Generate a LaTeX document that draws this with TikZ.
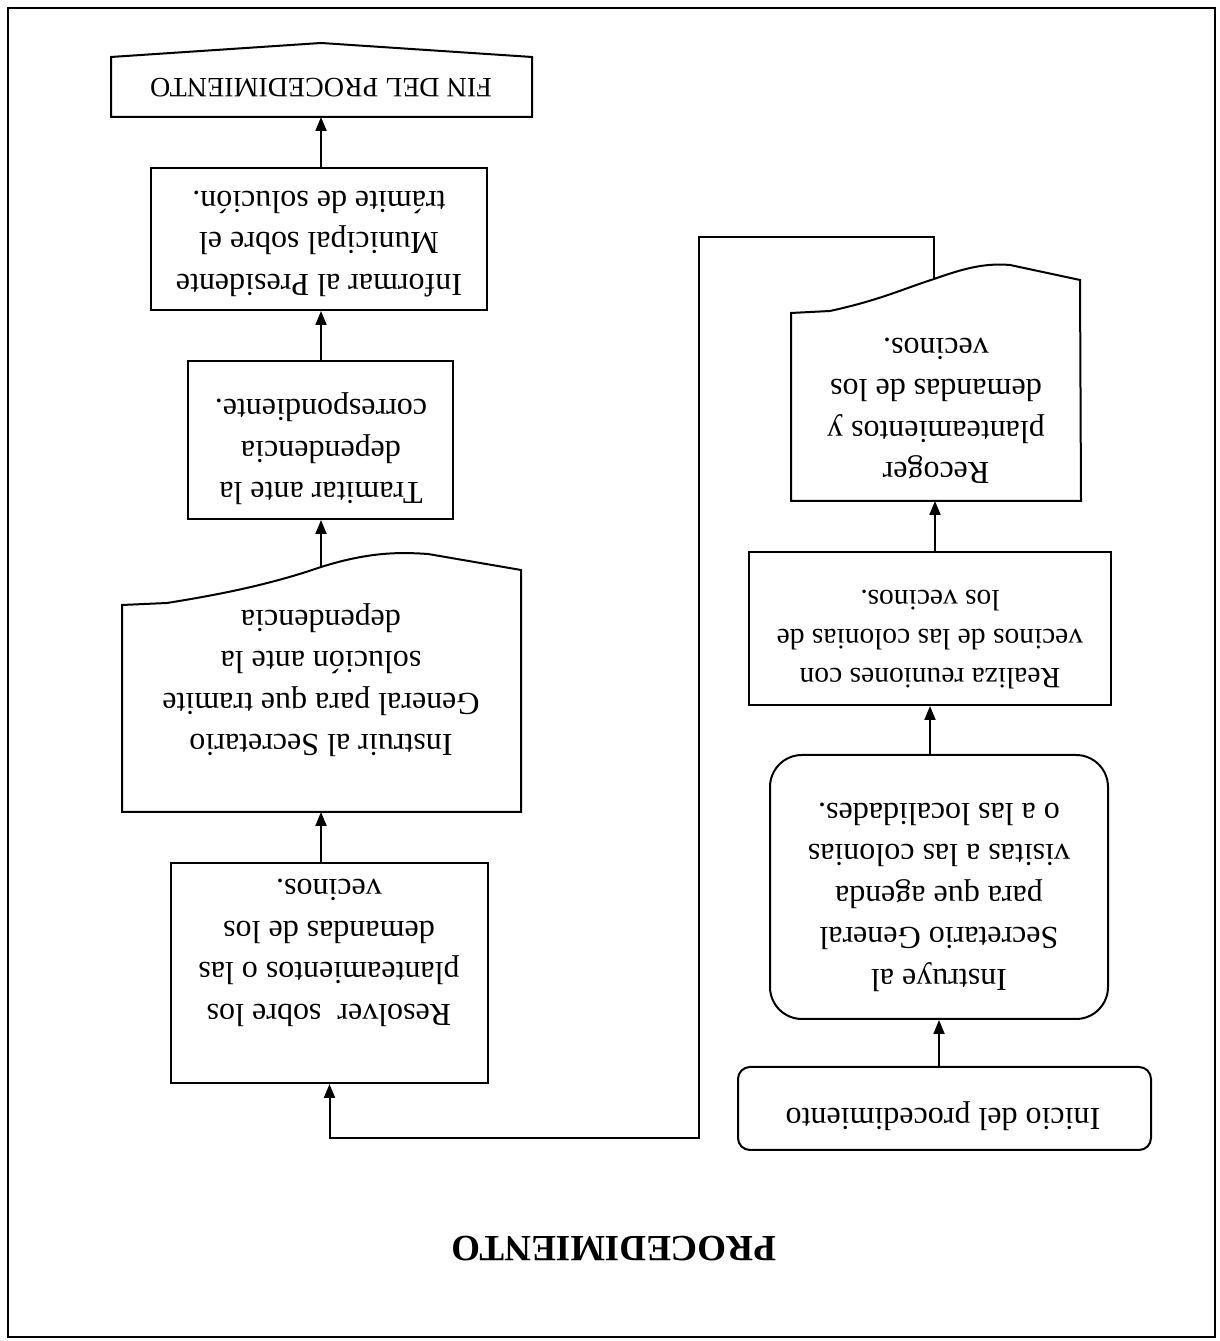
\documentclass[tikz,border=0pt]{standalone}
\usepackage{fontspec}
\setmainfont{Liberation Serif}
\usetikzlibrary{arrows.meta,calc}
\begin{document}
\begin{tikzpicture}[x=1pt,y=1pt,
  line width=2pt,
  box/.style={draw, rectangle, inner sep=0pt},
  txt/.style={align=center, font=\fontsize{32}{41.5}\selectfont, inner sep=0pt},
  arr/.style={-{Triangle[length=14pt,width=11pt]}},
]
\useasboundingbox (0,0) rectangle (1219,1341);
\fill[white] (0,0) rectangle (1219,1341);
\begin{scope}[rotate around={180:(609.5,670.5)}, transform shape]
% frame
\draw[line width=2.2pt] (4,8) rectangle (1211,1337);
% title
\node[font=\fontsize{37}{40}\selectfont\bfseries, inner sep=0pt] (title) at (605,1249) {PROCEDIMIENTO};
% left column (upright)
\node[box, minimum width=413pt, minimum height=83pt, rounded corners=12pt] (inicio) at (274.5,1108.5) {};
\node[txt] (inicioT) at (276,1116) {Inicio del procedimiento};
\node[box, minimum width=338pt, minimum height=264pt, rounded corners=32pt] (instruye) at (280,887) {};
\node[txt] (instruyeT) at (280,897) {Instruye al\\Secretario General\\para que agenda\\visitas a las colonias\\o a las localidades.};
\node[box, minimum width=362pt, minimum height=153pt] (realiza) at (289,628.5) {};
\node[txt, font=\fontsize{29.5}{39}\selectfont] (realizaT) at (289,640) {Realiza reuniones con\\vecinos de las colonias de\\los vecinos.};
% Recoger document
\draw (138,501) -- (428,501) -- (428,313) -- (389,311)
  .. controls (339,300) and (319,290) .. (285,279)
  .. controls (254,268) and (234,263) .. (209,265) -- (139,280) -- cycle;
\coordinate (recTop) at (284,501);
\coordinate (recW) at (285,279);
\node[txt] (recogerT) at (283,411) {Recoger\\planteamientos y\\demandas de los\\vecinos.};
% right column (upright)
\node[box, minimum width=317pt, minimum height=220pt] (resolver) at (889.5,973) {};
\node[txt] (resolverT) at (890,953) {Resolver\ \ sobre los\\planteamientos o las\\demandas de los\\vecinos.};
% Instruir document
\draw (698,812) -- (1097,812) -- (1097,605) -- (1052,603)
  .. controls (1002,595) and (950,585) .. (898,567)
  .. controls (850,552) and (820,552) .. (791,554) -- (698,570) -- cycle;
\coordinate (insTop) at (898,812);
\coordinate (insW) at (898,567);
\node[txt] (instruirT) at (898,680) {Instruir al Secretario\\General para que tramite\\solución ante la\\dependencia};
\node[box, minimum width=265pt, minimum height=158pt] (tramitar) at (898.5,440) {};
\node[txt] (tramitarT) at (898,449) {Tramitar ante la\\dependencia\\correspondiente.};
\node[box, minimum width=336pt, minimum height=142pt] (informar) at (900,239) {};
\node[txt] (informarT) at (900,244) {Informar al Presidente\\Municipal sobre el\\trámite de solución.};
% FIN off-page connector
\draw (687,117) -- (1108,117) -- (1108,57) -- (898,43) -- (687,57) -- cycle;
\coordinate (finTop) at (898,117);
\node[txt, font=\fontsize{28}{30}\selectfont] (finT) at (898,88) {FIN DEL PROCEDIMIENTO};
% connectors
\coordinate (loopA) at (520,237);
\coordinate (loopB) at (520,1138);
\draw[arr] (inicio.south -| instruye.north) -- (instruye.north);
\draw[arr] (instruye.south -| realiza.north) -- (realiza.north);
\draw[arr] (recTop |- realiza.south) -- (recTop);
\draw[arr] (recW) |- (loopA) -- (loopB) -| (resolver.north);
\draw[arr] (insTop |- resolver.south) -- (insTop);
\draw[arr] (insW) -- (insW |- tramitar.north);
\draw[arr] (tramitar.south -| insW) -- (insW |- informar.north);
\draw[arr] (finTop |- informar.south) -- (finTop);
\end{scope}
\end{tikzpicture}
\end{document}
